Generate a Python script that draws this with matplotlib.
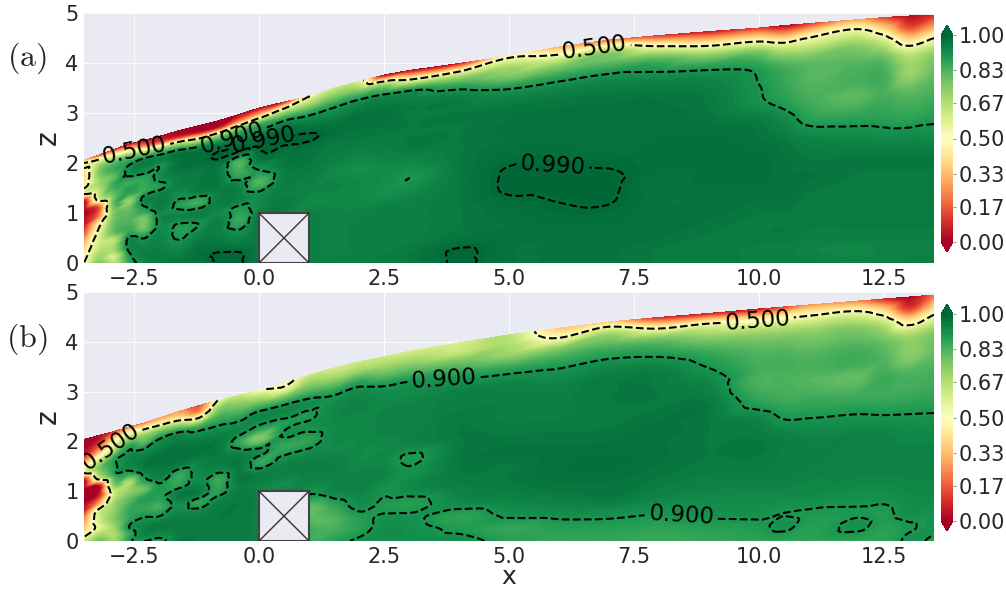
import numpy as np
import matplotlib
matplotlib.use('Agg')
import matplotlib.pyplot as plt
import matplotlib.tri as mtri
from matplotlib.patches import Rectangle

plt.rcParams['mathtext.fontset'] = 'cm'
plt.rcParams['axes.facecolor'] = '#EAEAF2'
plt.rcParams['text.color'] = '.15'
plt.rcParams['xtick.color'] = '.15'
plt.rcParams['ytick.color'] = '.15'
plt.rcParams['axes.labelcolor'] = '.15'

# stations along x, and heights as a fraction of the local top of the domain
x_cols = [-3.5, -3.2, -2.9, -2.6, -2.3, -2.0, -1.6, -1.2, -0.8, -0.4, 0.0, 0.5, 1.0, 1.5, 2.0,
          2.5, 3.0, 4.0, 5.0, 6.0, 7.0, 8.0, 9.0, 10.0, 10.5, 11.0, 12.0, 12.5, 13.0, 13.5]
eta_rows = [0, .06, .12, .2, .28, .36, .44, .52, .6, .68, .76, .84, .9, .95, 1]

top_a = [2.06, 2.16, 2.27, 2.38, 2.45, 2.53, 2.65, 2.75, 2.85, 2.97, 3.1, 3.22, 3.33, 3.5, 3.63,
         3.76, 3.85, 3.99, 4.14, 4.32, 4.46, 4.55, 4.63, 4.7, 4.75, 4.79, 4.87, 4.91, 4.94, 4.95]
top_b = [2.04, 2.12, 2.2, 2.29, 2.37, 2.47, 2.6, 2.72, 2.83, 2.93, 3.02, 3.17, 3.33, 3.48, 3.6,
         3.7, 3.81, 3.98, 4.14, 4.27, 4.4, 4.49, 4.57, 4.66, 4.7, 4.74, 4.82, 4.86, 4.9, 4.94]

# in percent, one line per x station from bottom to top
field_a = [
    [50, 45, 40, 30, 15, 5, 2, 0, 0, 55, 40, 35, 40, 60, 30],
    [75, 70, 65, 60, 55, 45, 20, 15, 60, 65, 70, 75, 70, 55, 10],
    [65, 60, 70, 65, 80, 78, 75, 80, 78, 85, 80, 85, 75, 48, 5],
    [85, 88, 92, 92, 85, 82, 80, 72, 88, 85, 92, 88, 75, 40, 0],
    [93, 95, 94, 90, 78, 76, 88, 93, 85, 86, 93, 93, 70, 25, 0],
    [96, 96, 95, 94, 92, 92, 95, 95, 88, 92, 90, 93, 70, 15, 0],
    [97, 95, 93, 89, 89, 94, 88, 92, 95, 96, 97, 94, 65, 8, 0],
    [97, 98, 97, 94, 90, 95, 84, 95, 96, 96, 98, 92, 55, 3, 0],
    [99.5, 99.5, 97, 95, 95, 93, 95, 96, 96, 96, 99.5, 93, 65, 5, 0],
    [99.5, 99.5, 96, 92, 85, 88, 95, 94, 85, 82, 99.5, 93, 75, 25, 0],
    [96, 96, 96, 96, 96, 93, 92, 82, 90, 97, 99.5, 92, 80, 35, 0],
    [96, 96, 96, 96, 93, 96, 95, 95, 96, 97, 99.5, 97, 85, 58, 5],
    [95, 95, 95, 95, 95, 93, 94, 95, 96, 97, 99.5, 95, 87, 70, 50],
    [95, 94, 94, 94, 94, 93, 94, 93, 95, 96, 98, 94, 88, 75, 62],
    [95, 95, 95, 95, 94, 93, 93, 92, 94, 96, 97, 96, 90, 74, 58],
    [96, 95, 95, 95, 95, 92, 92, 93, 95, 96, 97, 96, 89, 68, 0],
    [96, 96, 95, 95, 95, 93, 90, 93, 96, 96, 96, 95, 88, 52, 0],
    [99.5, 99.5, 97, 96, 96, 96, 96, 96, 96, 96, 96, 94, 83, 58, 5],
    [97, 97, 97, 97, 98, 99.5, 99.4, 98, 97, 97, 96, 90, 76, 68, 45],
    [97, 97, 97, 98, 99, 99.5, 99.1, 98, 97, 97, 96, 90, 78, 58, 30],
    [97, 97, 97, 98, 99.2, 99.5, 98.8, 97, 97, 97, 96, 91, 80, 70, 20],
    [96, 96, 97, 97, 97, 97, 98, 98, 97, 97, 96, 90, 80, 52, 10],
    [96, 96, 96, 97, 97, 98, 98, 98, 97, 96, 95, 89, 72, 42, 5],
    [95, 95, 96, 96, 97, 98, 98, 97, 96, 91, 90, 87, 75, 45, 10],
    [95, 95, 96, 96, 97, 97, 97, 96, 93, 88, 86, 82, 65, 35, 1],
    [95, 94, 95, 96, 96, 97, 96, 94, 88, 84, 82, 80, 65, 45, 10],
    [94, 93, 95, 96, 96, 96, 96, 93, 87, 81, 84, 80, 72, 55, 28],
    [94, 94, 95, 96, 96, 96, 96, 92, 87, 84, 84, 78, 62, 40, 12],
    [95, 94, 95, 96, 96, 96, 96, 92, 86, 82, 72, 66, 40, 15, 2],
    [95, 94, 95, 96, 96, 96, 96, 92, 88, 84, 80, 74, 54, 30, 10],
]
field_b = [
    [60, 45, 35, 25, 8, 0, 0, 0, 0, 55, 30, 5, 0, 0, 0],
    [78, 68, 55, 60, 58, 25, 5, 0, 60, 75, 60, 30, 15, 5, 2],
    [70, 68, 70, 75, 72, 68, 60, 75, 85, 88, 85, 62, 48, 30, 10],
    [88, 85, 90, 86, 85, 80, 72, 68, 88, 94, 92, 85, 68, 46, 20],
    [90, 94, 94, 90, 86, 88, 78, 88, 95, 96, 92, 80, 70, 48, 20],
    [88, 93, 96, 90, 84, 88, 89, 94, 96, 97, 94, 88, 72, 45, 25],
    [96, 95, 96, 94, 92, 96, 86, 86, 96, 97, 96, 90, 68, 40, 25],
    [96, 96, 96, 94, 87, 95, 93, 93, 95, 97, 94, 85, 55, 25, 15],
    [96, 96, 96, 96, 94, 87, 85, 94, 96, 96, 94, 88, 80, 70, 52],
    [96, 96, 96, 96, 96, 95, 96, 96, 94, 86, 93, 88, 80, 72, 62],
    [95, 95, 95, 95, 95, 94, 95, 86, 92, 75, 89, 93, 82, 68, 52],
    [95, 95, 95, 95, 95, 92, 95, 92, 86, 90.5, 89, 93, 80, 58, 44],
    [85, 85, 82, 80, 90, 94, 95, 93, 87, 91, 89, 92, 82, 72, 62],
    [88, 84, 82, 86, 93, 94, 95, 93, 93, 93, 93, 90, 80, 68, 60],
    [91, 88, 88, 92, 94, 94, 93, 93, 93, 93, 94, 92, 84, 70, 62],
    [92, 92, 91, 89, 91, 94, 93, 93, 94, 94, 93, 90, 80, 70, 62],
    [92, 92, 91, 88, 93, 91, 89, 94, 94, 94, 93, 90, 80, 70, 60],
    [92, 89, 87, 93, 95, 96, 96, 96, 96, 95, 94, 88, 78, 64, 60],
    [88, 86, 90.5, 94, 96, 96, 97, 96, 95, 95, 94, 86, 72, 68, 66],
    [86, 88, 91, 95, 97, 97.5, 97, 96, 95, 95, 93, 87, 76, 52, 35],
    [86, 88, 91, 96, 97, 98, 97, 96, 96, 96, 95, 89, 80, 68, 35],
    [85, 87, 90, 94, 96, 97, 97, 97, 96, 96, 95, 88, 78, 50, 8],
    [86, 88, 91, 93, 95, 96, 96, 96, 96, 94, 90, 84, 72, 54, 6],
    [87, 89, 91, 93, 95, 96, 96, 94, 87, 83, 84, 80, 70, 48, 4],
    [87, 91, 90, 93, 95, 95, 95, 90, 85, 83, 84, 80, 70, 50, 12],
    [87, 88, 89.5, 93, 94, 95, 94, 90, 85, 82, 83, 78, 70, 52, 25],
    [87, 91, 89.5, 92, 94, 94, 94, 90.5, 85, 80, 85, 80, 72, 54, 22],
    [87, 88, 89, 92, 94, 94, 94, 90, 85, 85, 82, 76, 64, 40, 8],
    [91, 89.5, 92, 93, 94, 94, 93, 90, 85, 83, 74, 70, 42, 12, 0],
    [89, 91, 91, 93, 94, 94, 93, 90, 86, 84, 80, 76, 58, 38, 20],
]

contour_a = [0.5, 0.9, 0.99]
contour_b = [0.5, 0.9]
labels_a = [(-2.5, 2.36), (-0.55, 2.56), (0.13, 2.4), (5.86, 1.9), (6.7, 4.32)]
labels_b = [(-3.0, 1.92), (3.7, 3.24), (8.43, 0.4), (9.97, 4.36)]
cbar_ticks = [0, 0.17, 0.33, 0.5, 0.67, 0.83, 1.0]
x_ticks = [-2.5, 0, 2.5, 5, 7.5, 10, 12.5]
z_ticks = [0, 1, 2, 3, 4, 5]
W, H = 1006., 591.


def panel(rect, crect, top, field, levels, manual, tag, tag_y):
    ax = fig.add_axes([rect[0]/W, 1-rect[3]/H, (rect[2]-rect[0])/W, (rect[3]-rect[1])/H])
    ax.grid(True, color='white', lw=0.6)
    ax.set_axisbelow(True)
    for s in ax.spines.values():
        s.set_visible(False)

    # curvilinear mesh under the top boundary, cells split by hand so it stays structured
    nx, ne = len(x_cols), len(eta_rows)
    xx = np.repeat(np.array(x_cols)[:, None], ne, axis=1)
    zz = np.array(top)[:, None]*np.array(eta_rows)[None, :]
    ids = np.arange(nx*ne).reshape(nx, ne)
    a, b, c, d = ids[:-1, :-1].ravel(), ids[1:, :-1].ravel(), ids[1:, 1:].ravel(), ids[:-1, 1:].ravel()
    cells = np.vstack([np.c_[a, b, c], np.c_[a, c, d]])
    tri = mtri.Triangulation(xx.ravel(), zz.ravel(), cells)
    vals = np.array(field, dtype=float).ravel()/100.
    interp = mtri.CubicTriInterpolator(tri, vals, kind='geom')
    tri2, f2 = mtri.UniformTriRefiner(tri).refine_field(vals, triinterpolator=interp, subdiv=3)

    cf = ax.tricontourf(tri2, f2, levels=np.linspace(0, 1, 129), cmap='RdYlGn', extend='both', zorder=2)
    cs = ax.tricontour(tri2, f2, levels=levels, colors='k', linestyles='--', linewidths=1.5, zorder=3)
    ax.clabel(cs, fmt='%.3f', fontsize=16.5, manual=manual, inline_spacing=4, colors='k')
    for t in cs.labelTexts:
        t.set_clip_on(True)
        t.set_clip_box(ax.bbox)

    # the obstacle
    ax.add_patch(Rectangle((0, 0), 1, 1, fc='#EAEAF2', ec='#444444', lw=1.5, zorder=4))
    ax.plot([0, 1], [0, 1], color='#333333', lw=1, zorder=5)
    ax.plot([0, 1], [1, 0], color='#333333', lw=1, zorder=5)

    ax.set_xlim(-3.5, 13.5)
    ax.set_ylim(0, 5)
    ax.set_xticks(x_ticks)
    ax.set_yticks(z_ticks)
    ax.set_xticklabels(['\u22122.5', '0.0', '2.5', '5.0', '7.5', '10.0', '12.5'])
    ax.tick_params(length=0, labelsize=15, pad=4)
    ax.set_ylabel('z', fontsize=20)
    ax.yaxis.set_label_coords(-0.026, 0.5)

    cax = fig.add_axes([crect[0]/W, 1-crect[3]/H, (crect[2]-crect[0])/W, (crect[3]-crect[1])/H])
    cb = fig.colorbar(cf, cax=cax, extend='both', extendfrac=0.05, extendrect=False)
    cb.set_ticks(cbar_ticks)
    cb.set_ticklabels(['%.2f' % t for t in cbar_ticks])
    cb.ax.tick_params(length=2, width=0.8, color='0.6', labelsize=15, pad=2)
    cb.outline.set_visible(False)

    fig.text(27/W, 1-tag_y/H, tag, fontsize=23, ha='center', va='center', color='.15')
    return ax


fig = plt.figure(figsize=(10.06, 5.91), dpi=100)

panel((84, 13, 934, 263), (941, 25, 953, 252), top_a, field_a, contour_a, labels_a, r'$\mathrm{(a)}$', 58)
ax2 = panel((84, 292, 934, 541), (941, 304, 953, 531), top_b, field_b, contour_b, labels_b, r'$\mathrm{(b)}$', 339)
ax2.set_xlabel('x', fontsize=18, labelpad=-1)

fig.savefig('out.png', dpi=100)
